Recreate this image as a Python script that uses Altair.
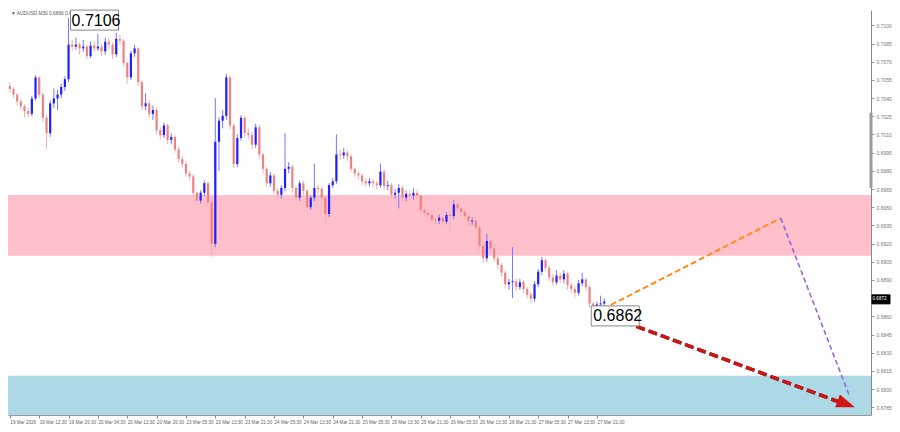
import altair as alt
import pandas as pd

# ---------------- data (prices in pips, 1 pip = 0.0001) ----------------
FIRST_OPEN = 7050.0
CLOSE = [7047.6, 7042.9, 7037.3, 7033.3, 7029.4, 7027.0, 7039.7, 7057.1, 7042.9, 7023.8,
         7011.1, 7035.7, 7039.7, 7042.9, 7049.2, 7055.6, 7084.1, 7082.5, 7084.1, 7081.0,
         7082.5, 7074.6, 7083.3, 7081.0, 7082.5, 7078.6, 7086.5, 7084.1, 7076.2, 7088.9,
         7087.3, 7069.0, 7057.1, 7077.0, 7081.0, 7053.2, 7033.3, 7035.7, 7027.0, 7030.2,
         7013.5, 7009.5, 7017.5, 7005.5, 7007.9, 6997.6, 6989.7, 6985.7, 6977.8, 6975.4,
         6961.9, 6955.5, 6961.9, 6969.8, 6954.0, 6919.8, 7004.0, 7021.4, 7025.4, 7057.1,
         7017.5, 6985.7, 7007.1, 7023.8, 7011.1, 7009.5, 7001.6, 7015.9, 6993.6, 6981.7,
         6969.8, 6976.2, 6963.5, 6960.3, 6965.9, 6981.7, 6983.3, 6965.9, 6957.9, 6969.8,
         6963.5, 6950.0, 6957.9, 6965.9, 6965.1, 6957.9, 6944.4, 6968.2, 6971.4, 6993.6,
         6992.8, 6995.2, 6992.0, 6981.7, 6977.8, 6976.2, 6971.4, 6969.8, 6971.4, 6969.8,
         6968.2, 6979.4, 6967.5, 6968.2, 6960.3, 6961.9, 6965.9, 6957.9, 6961.1, 6959.5,
         6961.9, 6959.5, 6947.6, 6945.2, 6943.6, 6939.7, 6938.9, 6941.3, 6938.1, 6943.6,
         6942.8, 6952.4, 6949.2, 6946.0, 6942.8, 6938.1, 6938.9, 6933.3, 6918.2, 6907.9,
         6922.2, 6915.9, 6907.9, 6902.4, 6896.0, 6886.5, 6888.1, 6888.9, 6884.1, 6888.1,
         6882.5, 6877.8, 6874.6, 6886.5, 6896.8, 6906.3, 6900.0, 6892.0, 6888.1, 6893.6,
         6890.5, 6895.2, 6885.7, 6882.5, 6879.4, 6887.3, 6890.5, 6884.1, 6870.6, 6864.3,
         6869.8, 6870.6, 6872.2]
HIGH = [7053, 7049, 7044, 7039, 7035, 7032, 7042, 7059, 7058, 7045,
        7026, 7038, 7048, 7047, 7052, 7058, 7106, 7088, 7090, 7086,
        7088, 7084, 7087, 7087, 7093, 7085, 7090, 7089, 7086, 7094,
        7092, 7089, 7070, 7079, 7084, 7082, 7055, 7044, 7038, 7034,
        7032, 7016, 7020, 7019, 7011, 7010, 7000, 6992, 6988, 6980,
        6977, 6963, 6964, 6972, 6971, 6956, 7040, 7024, 7030, 7060,
        7059, 7019, 7010, 7026, 7025, 7015, 7012, 7019, 7018, 6995,
        6983, 6979, 6978, 6966, 6968, 7011, 6987, 6985, 6968, 6972,
        6972, 6965, 6960, 6986, 6969, 6967, 6959, 6970, 6974, 7010,
        6998, 6999, 6997, 6994, 6983, 6980, 6978, 6974, 6974, 6973,
        6972, 6986, 6981, 6972, 6970, 6965, 6969, 6968, 6964, 6964,
        6966, 6964, 6961, 6949, 6947, 6945, 6942, 6944, 6943, 6946,
        6946, 6956, 6955, 6951, 6948, 6945, 6942, 6941, 6935, 6920,
        6928, 6924, 6918, 6910, 6904, 6898, 6891, 6917, 6891, 6891,
        6890, 6884, 6880, 6889, 6899, 6909, 6908, 6902, 6895, 6898,
        6896, 6898, 6897, 6888, 6885, 6890, 6896, 6892, 6886, 6872,
        6872, 6877, 6875]
LOW = [7045, 7040, 7034, 7030, 7024, 7024, 7025, 7038, 7040, 7020,
       6998, 7008, 7032, 7030, 7040, 7046, 7053, 7079, 7080, 7076,
       7078, 7072, 7073, 7078, 7079, 7075, 7076, 7080, 7072, 7074,
       7084, 7066, 7052, 7055, 7074, 7050, 7030, 7030, 7024, 7022,
       7010, 7006, 7007, 7002, 7002, 6995, 6987, 6983, 6975, 6972,
       6959, 6952, 6953, 6959, 6950, 6909, 6917, 6980, 7015, 7022,
       7014, 6982, 6983, 7005, 7008, 7006, 6998, 6999, 6990, 6978,
       6967, 6967, 6961, 6957, 6957, 6963, 6978, 6962, 6955, 6955,
       6960, 6947, 6948, 6955, 6961, 6955, 6937, 6942, 6966, 6969,
       6989, 6990, 6988, 6979, 6975, 6973, 6968, 6967, 6967, 6966,
       6965, 6966, 6964, 6964, 6957, 6957, 6949, 6955, 6955, 6956,
       6956, 6956, 6945, 6942, 6941, 6937, 6936, 6936, 6935, 6936,
       6930, 6940, 6946, 6943, 6940, 6935, 6935, 6930, 6915, 6904,
       6905, 6912, 6905, 6899, 6893, 6883, 6882, 6875, 6881, 6882,
       6879, 6875, 6871, 6872, 6884, 6894, 6897, 6889, 6885, 6886,
       6887, 6887, 6882, 6879, 6876, 6877, 6885, 6881, 6867, 6862,
       6863, 6867, 6869]

TIME_LABELS = ["19 Mar 2026", "19 Mar 12:30", "19 Mar 20:30", "20 Mar 04:30", "20 Mar 12:30",
               "20 Mar 20:30", "23 Mar 05:30", "23 Mar 13:30", "23 Mar 21:30", "24 Mar 05:30",
               "24 Mar 13:30", "24 Mar 21:30", "25 Mar 05:30", "25 Mar 13:30", "25 Mar 21:30",
               "26 Mar 05:30", "26 Mar 13:30", "26 Mar 21:30", "27 Mar 05:30", "27 Mar 13:30",
               "27 Mar 21:30"]
TIME_TICKS = [0, 8, 16, 24, 32, 40, 48, 56, 64, 72, 80, 88, 96, 104, 112, 120, 128, 136, 144, 152, 160]
# 0.6875 is hidden behind the current-price box in the reference
PRICE_TICKS = [0.6785, 0.6800, 0.6815, 0.6830, 0.6845, 0.6860, 0.6890, 0.6905, 0.6920,
               0.6935, 0.6950, 0.6965, 0.6980, 0.6995, 0.7010, 0.7025, 0.7040, 0.7055, 0.7070,
               0.7085, 0.7100]

X_DOMAIN = [-0.5, 234.7]
Y_DOMAIN = [0.67786, 0.71127]
PINK_ZONE = [0.6910, 0.6960]
BLUE_ZONE = [0.67786, 0.6811]

ORANGE_X, ORANGE_Y = [161.6, 210.1], [0.6866, 0.6941]
PURPLE_X, PURPLE_Y = [210.1, 229.0], [0.6941, 0.6793]
RED_X, RED_Y = [160.8, 226.3], [0.6863, 0.6789]
ARROW_TIP = [230.3, 0.6785]

HIGH_LABEL = [16, 0.7106, "0.7106"]
LOW_LABEL = [159, 0.6862, "0.6862"]
CURRENT_PRICE = [234.7, 0.6874, "0.6872"]
SCROLL_MARK = [0.7028, 0.6966]
HEADER = "\u25bc AUDUSD,M30  0.6866 0.6870 0.6864 0.6870"

FONT = "Liberation Sans"

# ---------------- build tables ----------------
opens = [FIRST_OPEN] + CLOSE[:-1]
rows = []
for i, (o, c, h, l) in enumerate(zip(opens, CLOSE, HIGH, LOW)):
    up = c >= o
    rows.append({
        "idx": i, "open": o / 10000, "close": c / 10000,
        "high": h / 10000, "low": l / 10000,
        "body": "#1f1fff" if up else "#ee8282",
        "wick": "#7777ff" if up else "#f4b0b0",
    })
candles = pd.DataFrame(rows)

xs = alt.Scale(domain=X_DOMAIN, nice=False, zero=False)
ys = alt.Scale(domain=Y_DOMAIN, nice=False, zero=False)

x_axis = alt.Axis(values=TIME_TICKS, labelExpr="%s[round(datum.value/8)]" % str(TIME_LABELS),
                  labelFontSize=4.6, labelColor="#666", labelAlign="left", labelPadding=1,
                  labelOverlap=False, labelBound=False, labelFlush=False,
                  tickSize=3, tickColor="#888", domainColor="#999", grid=False, title=None,
                  labelFont=FONT)
y_axis = alt.Axis(values=PRICE_TICKS, format=".4f", orient="right", labelFontSize=5,
                  labelColor="#777", tickSize=3, tickColor="#999", domainColor="#888",
                  labelPadding=2, grid=False, title=None, labelOverlap=False, labelFont=FONT)


def X(field):
    return alt.X(field, scale=xs, axis=x_axis)


def Y(field):
    return alt.Y(field, scale=ys, axis=y_axis)


zones = pd.DataFrame({
    "x0": [X_DOMAIN[0], X_DOMAIN[0]], "x1": [X_DOMAIN[1], X_DOMAIN[1]],
    "y0": [PINK_ZONE[0], BLUE_ZONE[0]], "y1": [PINK_ZONE[1], BLUE_ZONE[1]],
    "col": ["#ffc0cb", "#add8e6"],
})
zone_layer = alt.Chart(zones).mark_rect().encode(
    x=X("x0:Q"), x2="x1:Q", y=Y("y0:Q"), y2="y1:Q",
    color=alt.Color("col:N", scale=None),
)

wicks = alt.Chart(candles).mark_rule(strokeWidth=1).encode(
    x=X("idx:Q"), y=Y("low:Q"), y2="high:Q",
    color=alt.Color("wick:N", scale=None),
)
bodies = alt.Chart(candles).mark_rule(strokeWidth=2.2).encode(
    x=X("idx:Q"), y=Y("open:Q"), y2="close:Q",
    color=alt.Color("body:N", scale=None),
)


def seg(xv, yv, color, width, dash):
    df = pd.DataFrame({"x": xv, "y": yv, "o": list(range(len(xv)))})
    return alt.Chart(df).mark_line(color=color, strokeWidth=width, strokeDash=dash).encode(
        x=X("x:Q"), y=Y("y:Q"), order="o:Q",
    )


orange = seg(ORANGE_X, ORANGE_Y, "#ff8c1a", 2, [6, 3])
purple = seg(PURPLE_X, PURPLE_Y, "#9966dd", 1.6, [5, 3])
red_shadow = seg(RED_X, RED_Y, "#7a1010", 3.6, [9, 4])
red = seg(RED_X, RED_Y, "#d11414", 3, [9, 4])

arrow = alt.Chart(pd.DataFrame({"x": [ARROW_TIP[0]], "y": [ARROW_TIP[1]]})).mark_point(
    shape="M0,0L-4.6,-1.7L-4.6,1.7Z", size=64, angle=20, filled=True,
    color="#d11414", opacity=1,
).encode(x=X("x:Q"), y=Y("y:Q"))


def label_box(item, path, size, fill, stroke, tcolor, fsize, dx, dy):
    df = pd.DataFrame({"x": [item[0]], "y": [item[1]], "t": [item[2]]})
    base = alt.Chart(df).encode(x=X("x:Q"), y=Y("y:Q"))
    box = base.mark_point(shape=path, size=size, filled=True, fill=fill, stroke=stroke,
                          strokeWidth=1, opacity=1)
    txt = base.mark_text(align="left", baseline="middle", dx=dx, dy=dy, fontSize=fsize,
                         color=tcolor, font=FONT).encode(text="t:N")
    return box + txt


hi_box = label_box(HIGH_LABEL, "M0.2,-0.8H5V1.2H0.2Z", 400, "white", "#888", "black", 16, 3, 2.5)
lo_box = label_box(LOW_LABEL, "M-0.2,-0.8H4.6V1.2H-0.2Z", 400, "white", "#888", "black", 16, 0, 2.5)
cur_box = label_box(CURRENT_PRICE, "M0.2,-0.9H3.8V0.9H0.2Z", 100, "black", "black", "white", 4.6, 1.5, 0)

scroll = alt.Chart(pd.DataFrame({"x": [X_DOMAIN[1]], "y": [SCROLL_MARK[0]], "y2": [SCROLL_MARK[1]]})).mark_rule(
    strokeWidth=3, color="#9a9a9a").encode(x=X("x:Q"), y=Y("y:Q"), y2="y2:Q")

header = alt.Chart(pd.DataFrame({"t": [HEADER]})).mark_text(
    align="left", baseline="middle", fontSize=4.8, color="#555", font=FONT
).encode(x=alt.value(3), y=alt.value(4), text="t:N")

chart = alt.layer(
    zone_layer, wicks, bodies, orange, purple, red_shadow, red, arrow,
    scroll, header, hi_box, lo_box, cur_box,
).properties(
    width=884, height=416,
    autosize=alt.AutoSizeParams(type="fit", contains="padding"),
    padding={"left": 0, "top": 0, "right": 0, "bottom": 0},
    background="white",
).configure_view(strokeWidth=0)

chart.save("out.html", embed_options={"renderer": "svg", "actions": False})
